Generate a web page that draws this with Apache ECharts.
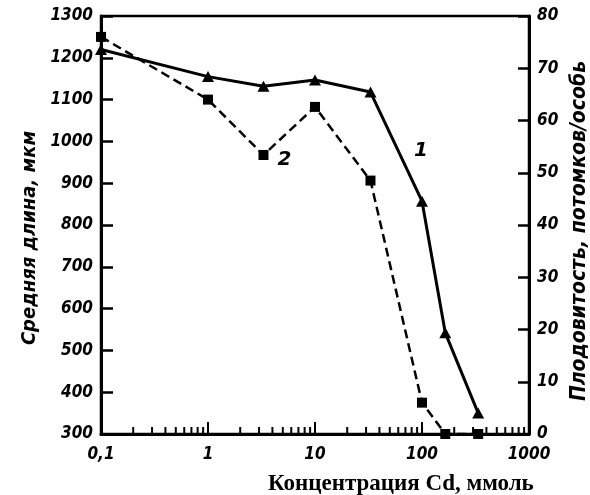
<!DOCTYPE html>
<html>
<head>
<meta charset="utf-8">
<script src="https://cdn.jsdelivr.net/npm/echarts@6/dist/echarts.min.js"></script>
<style>
  html, body { margin: 0; padding: 0; background: #fff; }
  #chart { width: 590px; height: 495px; }
</style>
</head>
<body>
<div id="chart"></div>
<script>
// Concentration of Cd (log scale), mmol
const lengthConc = [0.1, 1, 3.3, 10, 33, 100, 165, 335];
// Curve 1: mean length, µm (left axis)
const meanLength = [1220, 1155, 1132, 1147, 1118, 857, 542, 350];
// Curve 2: fecundity, offspring per individual (right axis)
const fecundityConc = [0.1, 1, 3.3, 10, 33, 100, 165, 335];
const fecundity = [76, 64, 53.4, 62.6, 48.5, 6, 0, 0];

// Axis tick labels
const xTickValues = [0.1, 1, 10, 100, 1000];
const xTickLabels = ['0,1', '1', '10', '100', '1000'];
// Minor ticks of the logarithmic axis (2..9 in each decade)
const minorTicks = [];
[0.1, 1, 10, 100].forEach(function (d) {
  for (let k = 2; k <= 9; k++) minorTicks.push(+(d * k).toPrecision(3));
});

const tickFont = {
  fontFamily: 'DejaVu Sans Condensed, DejaVu Sans',
  fontStyle: 'italic',
  fontWeight: 'bold',
  fontSize: 17,
  color: '#000'
};

const chart = echarts.init(document.getElementById('chart'), null, { renderer: 'canvas' });

function pairs(xs, ys) {
  return xs.map(function (x, i) { return [x, ys[i]]; });
}

const lengthData = pairs(lengthConc, meanLength).map(function (p, i) {
  if (i === 5) {
    return {
      value: p,
      label: {
        show: true, formatter: '1', position: 'top', offset: [-1, -30],
        fontFamily: 'DejaVu Sans', fontStyle: 'italic', fontWeight: 'bold', fontSize: 20, color: '#000'
      }
    };
  }
  return p;
});
const fecundityData = pairs(fecundityConc, fecundity).map(function (p, i) {
  if (i === 2) {
    return {
      value: p,
      label: {
        show: true, formatter: '2', position: 'right', offset: [4, 5],
        fontFamily: 'DejaVu Sans', fontStyle: 'italic', fontWeight: 'bold', fontSize: 20, color: '#000'
      }
    };
  }
  return p;
});

const option = {
  animation: false,
  backgroundColor: '#fff',
  title: {
    text: 'Концентрация Cd, ммоль',
    left: 263,
    top: 468,
    textStyle: {
      fontFamily: 'Liberation Serif',
      fontWeight: 'bold',
      fontSize: 23,
      color: '#000'
    }
  },
  grid: {
    left: 101, right: 61, top: 16, bottom: 61,
    outerBoundsMode: 'none',
    containLabel: false,
    show: true, borderColor: '#000', borderWidth: 2.5, backgroundColor: 'transparent'
  },
  xAxis: {
    type: 'log',
    logBase: 10,
    min: 0.1,
    max: 1000,
    axisLine: { lineStyle: { color: '#000', width: 3 } },
    axisTick: { inside: true, length: 12, lineStyle: { color: '#000', width: 2 } },
    splitLine: { show: false },
    axisLabel: Object.assign({}, tickFont, {
      margin: 12,
      showMinLabel: true,
      showMaxLabel: true,
      formatter: function (v) {
        const i = xTickValues.findIndex(function (t) { return Math.abs(Math.log10(t) - Math.log10(v)) < 1e-6; });
        return i >= 0 ? xTickLabels[i] : '';
      }
    })
  },
  yAxis: [
    {
      type: 'value',
      min: 300, max: 1300, interval: 100,
      name: 'Средняя длина, мкм',
      nameLocation: 'middle',
      nameRotate: 90,
      nameGap: 60,
      nameTextStyle: {
        fontFamily: 'DejaVu Sans Condensed, DejaVu Sans',
        fontStyle: 'italic', fontWeight: 'bold', fontSize: 20, color: '#000',
        padding: [0, 26, 0, 0]
      },
      axisLine: { show: true, lineStyle: { color: '#000', width: 3 } },
      axisTick: { show: true, inside: true, length: 12, lineStyle: { color: '#000', width: 2.5 } },
      splitLine: { show: false },
      axisLabel: Object.assign({}, tickFont, {
        margin: 8,
        formatter: function (v) { return String(v); }
      })
    },
    {
      type: 'value',
      min: 0, max: 80, interval: 10,
      position: 'right',
      name: 'Плодовитость, потомков/особь',
      nameLocation: 'middle',
      nameRotate: 90,
      nameGap: 34,
      nameTextStyle: {
        fontFamily: 'DejaVu Sans Condensed, DejaVu Sans',
        fontStyle: 'italic', fontWeight: 'bold', fontSize: 21, color: '#000',
        padding: [0, 12, 0, 0]
      },
      axisLine: { show: true, lineStyle: { color: '#000', width: 3 } },
      axisTick: { show: true, inside: true, length: 11, lineStyle: { color: '#000', width: 2.5 } },
      splitLine: { show: false },
      axisLabel: Object.assign({}, tickFont, {
        margin: 8,
        formatter: function (v) { return String(v); }
      })
    }
  ],
  series: [
    {
      name: 'minor',
      type: 'custom',
      xAxisIndex: 0,
      yAxisIndex: 0,
      silent: true,
      clip: false,
      data: minorTicks.map(function (v) { return [v, 300]; }),
      renderItem: function (params, api) {
        const p = api.coord([api.value(0), api.value(1)]);
        return {
          type: 'line',
          shape: { x1: p[0], y1: p[1], x2: p[0], y2: p[1] - 7 },
          style: { stroke: '#000', lineWidth: 2 }
        };
      },
      z: 1
    },
    {
      name: '1',
      type: 'line',
      yAxisIndex: 0,
      data: lengthData,
      symbol: 'triangle',
      symbolSize: [12, 11],
      itemStyle: { color: '#000' },
      lineStyle: { color: '#000', width: 3 },
      clip: false,
      z: 3
    },
    {
      name: '2',
      type: 'line',
      yAxisIndex: 1,
      data: fecundityData,
      symbol: 'rect',
      symbolSize: 10,
      itemStyle: { color: '#000' },
      lineStyle: { color: '#000', width: 2.5, type: [9, 5] },
      clip: false,
      z: 3
    }
  ]
};

chart.setOption(option);
</script>
</body>
</html>
